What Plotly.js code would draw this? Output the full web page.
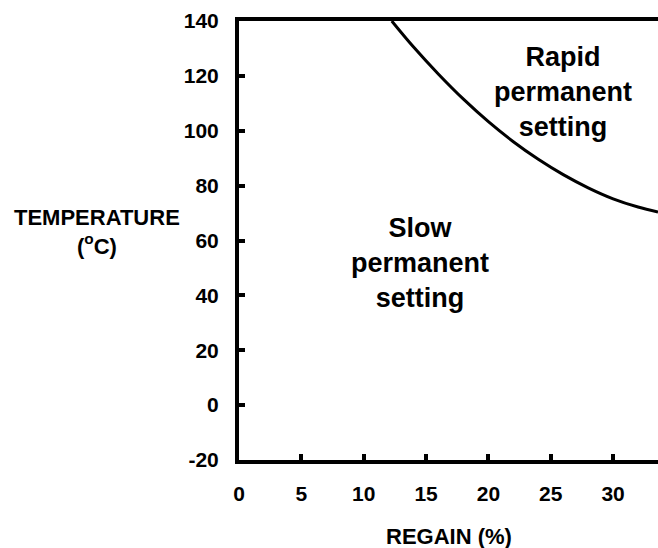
<!DOCTYPE html>
<html>
<head>
<meta charset="utf-8">
<script src="https://cdn.plot.ly/plotly-3.0.1.min.js"></script>
<style>html,body{margin:0;padding:0;background:#fff;}#chart{width:658px;height:548px;}</style>
</head>
<body>
<div id="chart"></div>
<script>
// Boundary curve between slow and rapid permanent setting
const regain = [12.25, 14, 16, 18, 20, 22, 24, 26, 28, 30, 32, 33.6];
const temperature = [140, 130.5, 120.6, 111.5, 103.3, 96.0, 89.6, 84.0, 79.2, 75.2, 72.2, 70.4];
const xTicks = [0, 5, 10, 15, 20, 25, 30];
const yTicks = [-20, 0, 20, 40, 60, 80, 100, 120, 140];
const labelSlow = "Slow<br>permanent<br>setting";
const labelRapid = "Rapid<br>permanent<br>setting";
const xTitle = "REGAIN (%)";
const yTitle = "TEMPERATURE<br>(<sup>o</sup>C)";

const fam = '"Liberation Sans", Arial, sans-serif';
const trace = {
  x: regain, y: temperature, mode: 'lines', type: 'scatter',
  line: {color: '#000', width: 3, shape: 'spline', smoothing: 1}, hoverinfo: 'skip'
};
const layout = {
  width: 658, height: 548,
  margin: {l: 239, r: 0, t: 21, b: 88},
  paper_bgcolor: '#fff', plot_bgcolor: '#fff',
  showlegend: false,
  font: {family: fam, color: '#000', size: 22, weight: 'bold'},
  xaxis: {
    range: [0, 33.6], tickvals: xTicks, ticktext: xTicks.map(String),
    showgrid: false, zeroline: false, showline: true, linecolor: '#000', linewidth: 4,
    mirror: true, ticks: 'inside', ticklen: 6, tickwidth: 4, tickcolor: '#000',
    tickfont: {family: fam, size: 21, weight: 'bold', color: '#000'}, ticklabelstandoff: 12
  },
  yaxis: {
    range: [-20, 140], tickvals: yTicks, ticktext: yTicks.map(String),
    showgrid: false, zeroline: false, showline: true, linecolor: '#000', linewidth: 4,
    ticks: 'inside', ticklen: 6, tickwidth: 4, tickcolor: '#000',
    tickfont: {family: fam, size: 21, weight: 'bold', color: '#000'}, ticklabelstandoff: 12
  },
  annotations: [
    {text: labelSlow, x: 14.5, y: 51.8, xref: 'x', yref: 'y', showarrow: false,
     xanchor: 'center', yanchor: 'middle',
     font: {family: fam, size: 27, weight: 'bold', color: '#000'}, align: 'center'},
    {text: labelRapid, x: 26, y: 114.2, xref: 'x', yref: 'y', showarrow: false,
     xanchor: 'center', yanchor: 'middle',
     font: {family: fam, size: 27, weight: 'bold', color: '#000'}, align: 'center'},
    {text: yTitle, x: -0.339, y: 0.52, xref: 'paper', yref: 'paper', showarrow: false,
     xanchor: 'center', yanchor: 'middle',
     font: {family: fam, size: 22, weight: 'bold', color: '#000'}, align: 'center'},
    {text: xTitle, x: 0.5, y: -0.175, xref: 'paper', yref: 'paper', showarrow: false,
     xanchor: 'center', yanchor: 'middle',
     font: {family: fam, size: 22, weight: 'bold', color: '#000'}, align: 'center'}
  ]
};
Plotly.newPlot('chart', [trace], layout, {displayModeBar: false, staticPlot: true});
</script>
</body>
</html>
